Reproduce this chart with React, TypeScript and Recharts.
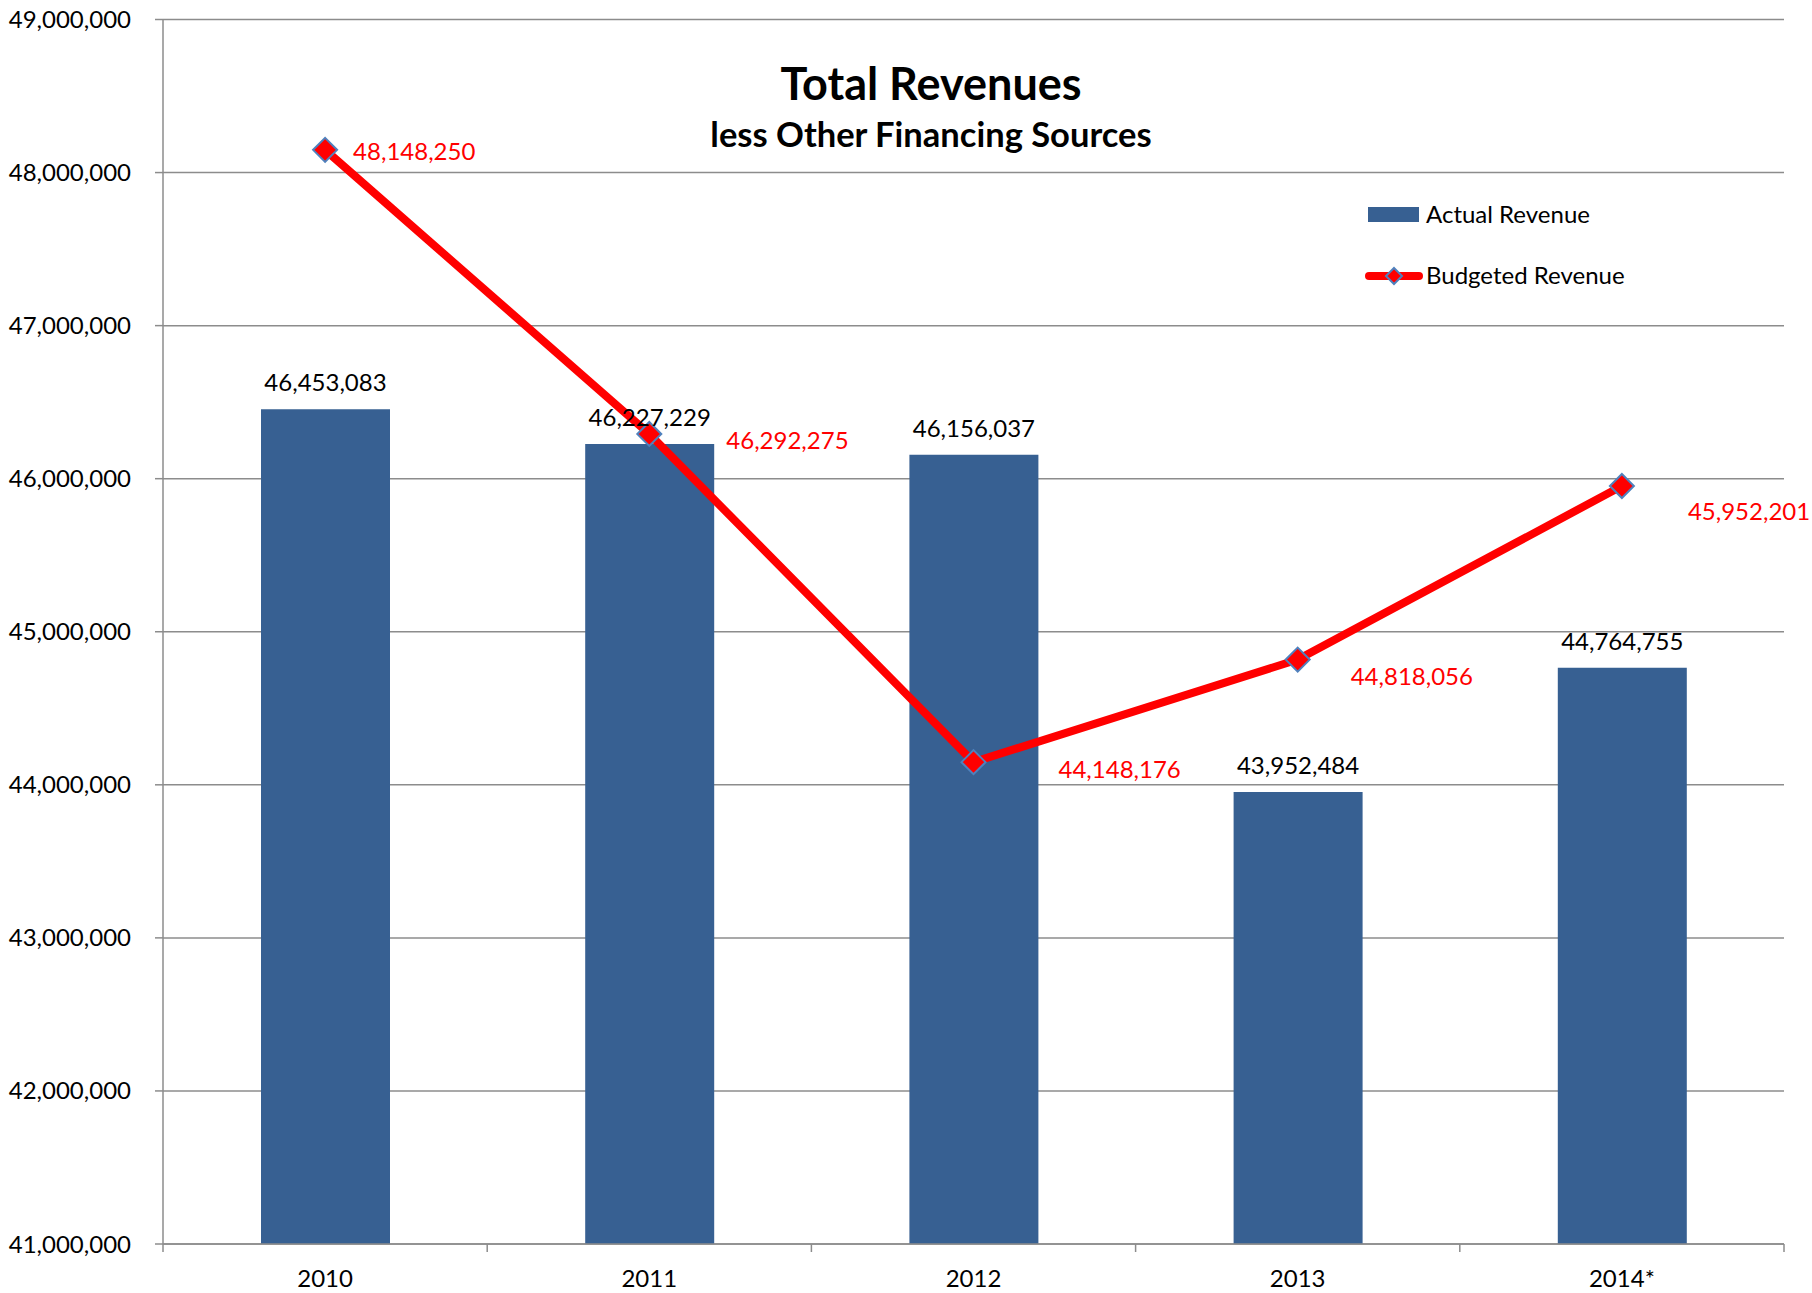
import React from "react";
import {
  ComposedChart,
  Bar,
  Line,
  XAxis,
  YAxis,
  CartesianGrid,
  LabelList,
} from "recharts";

const categories = ["2010", "2011", "2012", "2013", "2014*"];
const actualRevenue = [46453083, 46227229, 46156037, 43952484, 44764755];
const budgetedRevenue = [48148250, 46292275, 44148176, 44818056, 45952201];
const yTicks = [41000000, 42000000, 43000000, 44000000, 45000000, 46000000, 47000000, 48000000, 49000000];

const data = categories.map((c, i) => ({
  year: c,
  actual: actualRevenue[i],
  budget: budgetedRevenue[i],
}));

const FONT = "Lato, 'Open Sans', sans-serif";
const FS = 24;
const W = 1812;
const H = 1293;
const PLOT_LEFT = 163;
const PLOT_RIGHT = 1784;
const BAND = (PLOT_RIGHT - PLOT_LEFT) / categories.length;
const GRID = "#8c8c8c";
const BAR = "#376092";

// label offsets for the budget series (relative to each point)
const budgetLabelOffsets = [
  [28, 10],
  [77, 15],
  [85, 16],
  [53, 25],
  [66, 34],
];

const fmt = (v: number) => v.toLocaleString("en-US");

const XTick = (props: any) => {
  const { x, y, payload, index } = props;
  const lx = x - BAND / 2;
  const rx = x + BAND / 2;
  return (
    <g>
      <line x1={lx} y1={y} x2={lx} y2={y + 8} stroke={GRID} strokeWidth={1.5} />
      {index === categories.length - 1 && (
        <line x1={rx} y1={y} x2={rx} y2={y + 8} stroke={GRID} strokeWidth={1.5} />
      )}
      <text x={x} y={y + 43} textAnchor="middle" fill="#000" fontSize={FS} fontFamily={FONT}>
        {payload.value}
      </text>
    </g>
  );
};

const Diamond = (props: any) => {
  const { cx, cy } = props;
  if (cx == null || cy == null) return null;
  const r = 12;
  return (
    <polygon
      points={`${cx},${cy - r} ${cx + r},${cy} ${cx},${cy + r} ${cx - r},${cy}`}
      fill="#ff0000"
      stroke="#4f81bd"
      strokeWidth={2}
    />
  );
};

const BarLabel = (props: any) => {
  const { x, y, width, value } = props;
  return (
    <text x={x + width / 2} y={y - 18} textAnchor="middle" fill="#000" fontSize={FS} fontFamily={FONT}>
      {fmt(value)}
    </text>
  );
};

const BudgetLabel = (props: any) => {
  const { x, y, value, index } = props;
  const [dx, dy] = budgetLabelOffsets[index] || [20, 8];
  return (
    <text x={x + dx} y={y + dy} textAnchor="start" fill="#ff0000" fontSize={FS} fontFamily={FONT}>
      {fmt(value)}
    </text>
  );
};

const LegendBox = () => (
  <svg
    width={320}
    height={110}
    style={{ position: "absolute", left: 1360, top: 195, display: "block", pointerEvents: "none" }}
  >
    <rect x={8} y={12} width={51} height={15} fill={BAR} />
    <text x={66} y={28} fill="#000" fontSize={FS} fontFamily={FONT}>
      Actual Revenue
    </text>
    <line x1={9} y1={81} x2={59} y2={81} stroke="#ff0000" strokeWidth={8} strokeLinecap="round" />
    <polygon points="34,73 42,81 34,89 26,81" fill="#ff0000" stroke="#4f81bd" strokeWidth={2} />
    <text x={66} y={89} fill="#000" fontSize={FS} fontFamily={FONT}>
      Budgeted Revenue
    </text>
  </svg>
);

export default function App() {
  return (
    <div style={{ position: "absolute", left: 0, top: 0, width: W, height: H, background: "#fff" }}>
      <ComposedChart
        width={W}
        height={H}
        data={data}
        margin={{ top: 19.5, right: W - PLOT_RIGHT, bottom: 0, left: 0 }}
      >
        <CartesianGrid vertical={false} stroke={GRID} strokeWidth={1.5} />
        <XAxis
          dataKey="year"
          height={49}
          axisLine={{ stroke: GRID, strokeWidth: 1.5 }}
          tickLine={false}
          tickSize={0}
          tickMargin={0}
          tick={<XTick />}
          interval={0}
        />
        <YAxis
          width={PLOT_LEFT}
          domain={[41000000, 49000000]}
          ticks={yTicks}
          interval={0}
          allowDataOverflow
          tickFormatter={fmt}
          axisLine={{ stroke: GRID, strokeWidth: 1.5 }}
          tickLine={{ stroke: GRID, strokeWidth: 1.5 }}
          tickSize={8}
          tickMargin={24}
          tick={{ fill: "#000", fontSize: FS, fontFamily: FONT }}
        />
        <Bar dataKey="actual" name="Actual Revenue" fill={BAR} barSize={129} isAnimationActive={false}>
          <LabelList dataKey="actual" content={<BarLabel />} />
        </Bar>
        <Line
          dataKey="budget"
          name="Budgeted Revenue"
          stroke="#ff0000"
          strokeWidth={8}
          dot={<Diamond />}
          activeDot={false}
          isAnimationActive={false}
        >
          <LabelList dataKey="budget" content={<BudgetLabel />} />
        </Line>
      </ComposedChart>
      <LegendBox />
      <div
        style={{
          position: "absolute",
          left: 0,
          width: 1862,
          top: 56,
          textAlign: "center",
          fontFamily: FONT,
          fontWeight: 700,
          color: "#000",
          pointerEvents: "none",
        }}
      >
        <div style={{ fontSize: 45, lineHeight: "54px" }}>Total Revenues</div>
        <div style={{ fontSize: 34.5, lineHeight: "48px" }}>less Other Financing Sources</div>
      </div>
    </div>
  );
}
